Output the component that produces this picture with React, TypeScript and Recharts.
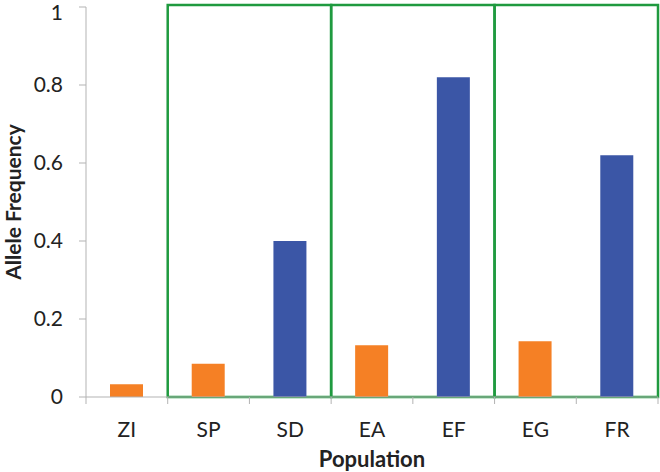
import { BarChart, Bar, XAxis, YAxis, Cell, ReferenceArea, Label } from 'recharts'

const populations = ['ZI', 'SP', 'SD', 'EA', 'EF', 'EG', 'FR']
const alleleFrequency = [0.033, 0.085, 0.4, 0.133, 0.82, 0.143, 0.62]
// which bar colour each population gets
const barGroup = ['orange', 'orange', 'blue', 'orange', 'blue', 'orange', 'blue']
const yTicks = [0, 0.2, 0.4, 0.6, 0.8, 1]
const boxes: [string, string][] = [['SP', 'SD'], ['EA', 'EF'], ['EG', 'FR']]

const colors: Record<string, string> = { orange: '#F58025', blue: '#3B56A6' }
const axisGray = '#b3b3b3'
const textColor = '#222'
const font = 'Lato, "Open Sans", sans-serif'

const data = populations.map((p, i) => ({ population: p, freq: alleleFrequency[i], group: barGroup[i] }))

const CategoryTick = (props: any) => {
  const { x, y, payload, index } = props
  const half = payload.offset ?? 0
  const last = index === populations.length - 1
  return (
    <g>
      <line x1={x - half} y1={y - 8} x2={x - half} y2={y - 1} stroke={axisGray} strokeWidth={1} />
      {last && <line x1={x + half} y1={y - 8} x2={x + half} y2={y - 1} stroke={axisGray} strokeWidth={1} />}
      <text x={x} y={y + 32} textAnchor="middle" fontSize={21} fill={textColor} fontFamily={font}>
        {payload.value}
      </text>
    </g>
  )
}

export default function App() {
  return (
    <div style={{ position: 'absolute', left: 0, top: 0, width: 660, height: 472, background: '#fff' }}>
      <BarChart width={660} height={472} data={data} margin={{ top: 7, right: 2, bottom: 0, left: 0 }}>
        <XAxis
          dataKey="population"
          height={75}
          stroke={axisGray}
          tickLine={false}
          tick={<CategoryTick />}
          interval={0}
        >
          <Label
            value="Population"
            position="insideBottom"
            offset={5}
            style={{ fontSize: 22, fontWeight: 700, fill: textColor, fontFamily: font }}
          />
        </XAxis>
        <YAxis
          width={86}
          domain={[0, 1]}
          ticks={yTicks}
          stroke={axisGray}
          tickSize={7}
          tickMargin={16}
          tickFormatter={(v: number) => String(v)}
          tick={{ fontSize: 21, fill: textColor, fontFamily: font }}
        >
          <Label
            value="Allele Frequency"
            angle={-90}
            position="insideLeft"
            offset={14}
            style={{ fontSize: 21, fontWeight: 700, fill: textColor, fontFamily: font, textAnchor: 'middle' }}
          />
        </YAxis>
        <Bar dataKey="freq" barSize={33} isAnimationActive={false}>
          {data.map((d) => (
            <Cell key={d.population} fill={colors[d.group]} />
          ))}
        </Bar>
        {boxes.map(([a, b]) => (
          <ReferenceArea
            key={a}
            x1={a}
            x2={b}
            y1={0}
            y2={1.005}
            ifOverflow="visible"
            fill="none"
            fillOpacity={0}
            stroke="#1F9A3F"
            strokeWidth={2.5}
            strokeOpacity={1}
          />
        ))}
      </BarChart>
    </div>
  )
}
